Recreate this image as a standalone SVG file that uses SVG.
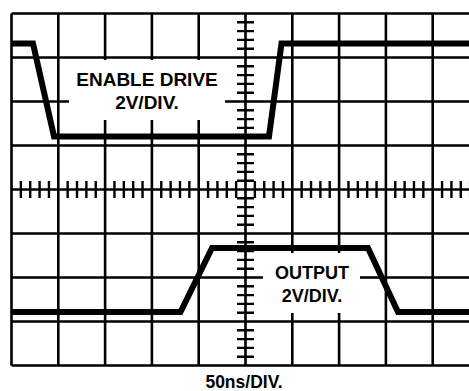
<svg xmlns="http://www.w3.org/2000/svg" width="469" height="391" viewBox="0 0 469 391">
<style>
.grid{stroke:#000;stroke-width:2.6;fill:none}
.tick{stroke:#000;stroke-width:2.4;fill:none}
.trace{stroke:#000;stroke-width:6;fill:none;stroke-linejoin:miter}
.mask{fill:#fff;stroke:none}
.lbl{font-family:"Liberation Sans",Arial,sans-serif;font-weight:bold;fill:#000;text-anchor:middle}
</style>
<rect width="469" height="391" fill="#fff"/>
<g id="grid">
<path class="grid" d="M11.5 13.5H480M11.5 57.5H480M11.5 101.5H480M11.5 145.5H480M11.5 189.5H480M11.5 233.5H480M11.5 277.5H480M11.5 321.5H480M11.5 365.5H480"/>
<path class="grid" d="M11.5 13.5V365.5M58.3 13.5V365.5M105.1 13.5V365.5M151.9 13.5V365.5M198.7 13.5V365.5M245.5 13.5V365.5M292.3 13.5V365.5M339.1 13.5V365.5M385.9 13.5V365.5M432.7 13.5V365.5"/>
</g>
<g id="ticks">
<path class="tick" d="M20.86 181v17M30.22 181v17M39.58 181v17M48.94 181v17M67.66 181v17M77.02 181v17M86.38 181v17M95.74 181v17M114.46 181v17M123.82 181v17M133.18 181v17M142.54 181v17M161.26 181v17M170.62 181v17M179.98 181v17M189.34 181v17M208.06 181v17M217.42 181v17M226.78 181v17M236.14 181v17M254.86 181v17M264.22 181v17M273.58 181v17M282.94 181v17M301.66 181v17M311.02 181v17M320.38 181v17M329.74 181v17M348.46 181v17M357.82 181v17M367.18 181v17M376.54 181v17M395.26 181v17M404.62 181v17M413.98 181v17M423.34 181v17M442.06 181v17M451.42 181v17M460.78 181v17M470.14 181v17"/>
<path class="tick" d="M237 22.3h17M237 31.1h17M237 39.9h17M237 48.7h17M237 66.3h17M237 75.1h17M237 83.9h17M237 92.7h17M237 110.3h17M237 119.1h17M237 127.9h17M237 136.7h17M237 154.3h17M237 163.1h17M237 171.9h17M237 180.7h17M237 198.3h17M237 207.1h17M237 215.9h17M237 224.7h17M237 242.3h17M237 251.1h17M237 259.9h17M237 268.7h17M237 286.3h17M237 295.1h17M237 303.9h17M237 312.7h17M237 330.3h17M237 339.1h17M237 347.9h17M237 356.7h17"/>
</g>
<g id="label-boxes">
<rect class="mask" x="69" y="60" width="156" height="60"/>
<rect class="mask" x="263" y="253" width="97" height="60"/>
</g>
<g id="connectors">
<path id="enable-trace" class="trace" d="M11.5 43.5H33L54 136.5H269L281.5 43.5H470"/>
<path id="output-trace" class="trace" d="M11.5 312H180.5L212 248H368L398 312H470"/>
</g>
<g id="enable-label">
<text class="lbl" x="147" y="86" font-size="19">ENABLE DRIVE</text>
<text class="lbl" x="147" y="109" font-size="19">2V/DIV.</text>
</g>
<g id="output-label">
<text class="lbl" x="312" y="278.5" font-size="18">OUTPUT</text>
<text class="lbl" x="312" y="302" font-size="18">2V/DIV.</text>
</g>
<g id="time-label">
<text class="lbl" x="244" y="388" font-size="17.5">50ns/DIV.</text>
</g>
</svg>
